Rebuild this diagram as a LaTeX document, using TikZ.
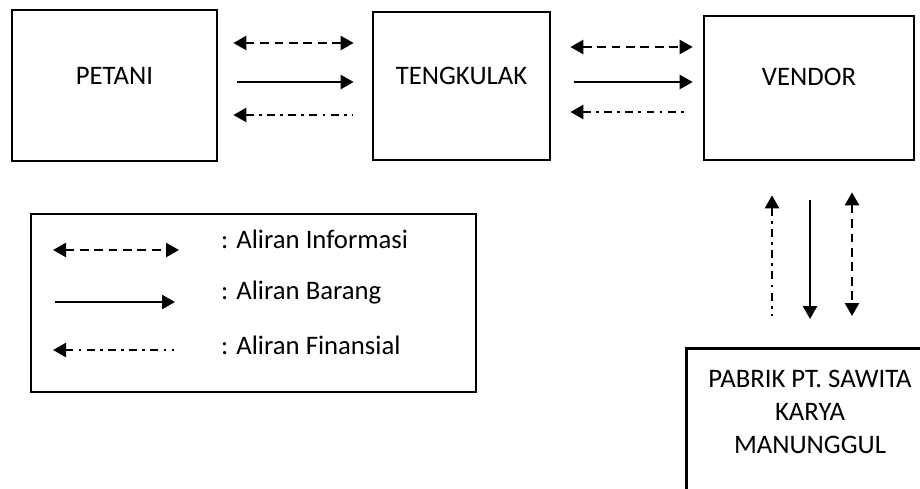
\documentclass[tikz,border=0pt]{standalone}
\usepackage{fontspec}
\setmainfont{Carlito}
\usetikzlibrary{arrows.meta}

\begin{document}
\begin{tikzpicture}[
    font=\fontsize{15.2}{19}\selectfont,
    >={Triangle[length=0.26cm,width=0.28cm]},
    kotak/.style={draw, line width=1.5pt, inner sep=0pt},
    info/.style={line width=1.4pt, dash pattern=on 5pt off 3.2pt, <->},
    barang/.style={line width=1.4pt, ->},
    finansial/.style={line width=1.4pt, dash pattern=on 4.5pt off 3pt on 1.6pt off 3pt, <-},
  ]
  \clip (0,0) rectangle (18.4,-9.76);

  % kotak pelaku
  \node[kotak, minimum width=4.1cm, minimum height=3.02cm] (petani) at (2.29,-1.71) {};
  \node (petani-teks) at ([yshift=0.19cm]petani.center) {PETANI};
  \node[kotak, minimum width=3.54cm, minimum height=2.96cm] (tengkulak) at (9.23,-1.72) {};
  \node (tengkulak-teks) at ([yshift=0.2cm]tengkulak.center) {TENGKULAK};
  \node[kotak, minimum width=4.2cm, minimum height=2.88cm] (vendor) at (16.18,-1.76) {};
  \node (vendor-teks) at ([yshift=0.22cm]vendor.center) {VENDOR};
  \node[kotak, minimum width=5cm, minimum height=3.2cm, anchor=north west] (pabrik) at (13.7,-6.94) {};
  \node[align=center] (pabrik-teks) at (16.2,-8.24) {PABRIK PT. SAWITA\\KARYA\\MANUNGGUL};

  % petani - tengkulak
  \draw[info, shorten <=0.3cm, shorten >=0.36cm] ([yshift=0.85cm]petani.east) -- ([yshift=0.85cm]petani.east -| tengkulak.west);
  \draw[barang, shorten <=0.38cm, shorten >=0.36cm] ([yshift=0.07cm]petani.east) -- ([yshift=0.07cm]petani.east -| tengkulak.west);
  \draw[finansial, shorten <=0.3cm, shorten >=0.38cm] ([yshift=-0.59cm]petani.east) -- ([yshift=-0.59cm]petani.east -| tengkulak.west);

  % tengkulak - vendor
  \draw[info, shorten <=0.38cm, shorten >=0.2cm] ([yshift=0.78cm]tengkulak.east) -- ([yshift=0.78cm]tengkulak.east -| vendor.west);
  \draw[barang, shorten <=0.46cm, shorten >=0.2cm] ([yshift=0.08cm]tengkulak.east) -- ([yshift=0.08cm]tengkulak.east -| vendor.west);
  \draw[finansial, shorten <=0.38cm, shorten >=0.28cm] ([yshift=-0.52cm]tengkulak.east) -- ([yshift=-0.52cm]tengkulak.east -| vendor.west);

  % vendor - pabrik
  \draw[finansial, shorten <=0.68cm, shorten >=0.62cm] ([xshift=-0.74cm]vendor.south) -- ([xshift=-0.74cm]vendor.south |- pabrik.north);
  \draw[barang, shorten <=0.78cm, shorten >=0.56cm] ([xshift=0.02cm]vendor.south) -- ([xshift=0.02cm]vendor.south |- pabrik.north);
  \draw[info, shorten <=0.62cm, shorten >=0.62cm] ([xshift=0.86cm]vendor.south) -- ([xshift=0.86cm]vendor.south |- pabrik.north);

  % keterangan
  \node[kotak, minimum width=8.9cm, minimum height=3.56cm] (legenda) at (5.07,-6.06) {};
  \coordinate (info-a) at (1.06,-5.0);
  \coordinate (info-b) at (3.58,-5.0);
  \coordinate (barang-a) at (1.1,-6.04);
  \coordinate (barang-b) at (3.5,-6.04);
  \coordinate (finansial-a) at (1.06,-7.0);
  \coordinate (finansial-b) at (3.48,-7.0);
  \draw[info] (info-a) -- (info-b);
  \draw[barang] (barang-a) -- (barang-b);
  \draw[finansial] (finansial-a) -- (finansial-b);
  \node[anchor=west] (ket-info) at (4.3,-4.78) {: Aliran Informasi};
  \node[anchor=west] (ket-barang) at (4.3,-5.86) {: Aliran Barang};
  \node[anchor=west] (ket-finansial) at (4.3,-6.9) {: Aliran Finansial};
\end{tikzpicture}
\end{document}
